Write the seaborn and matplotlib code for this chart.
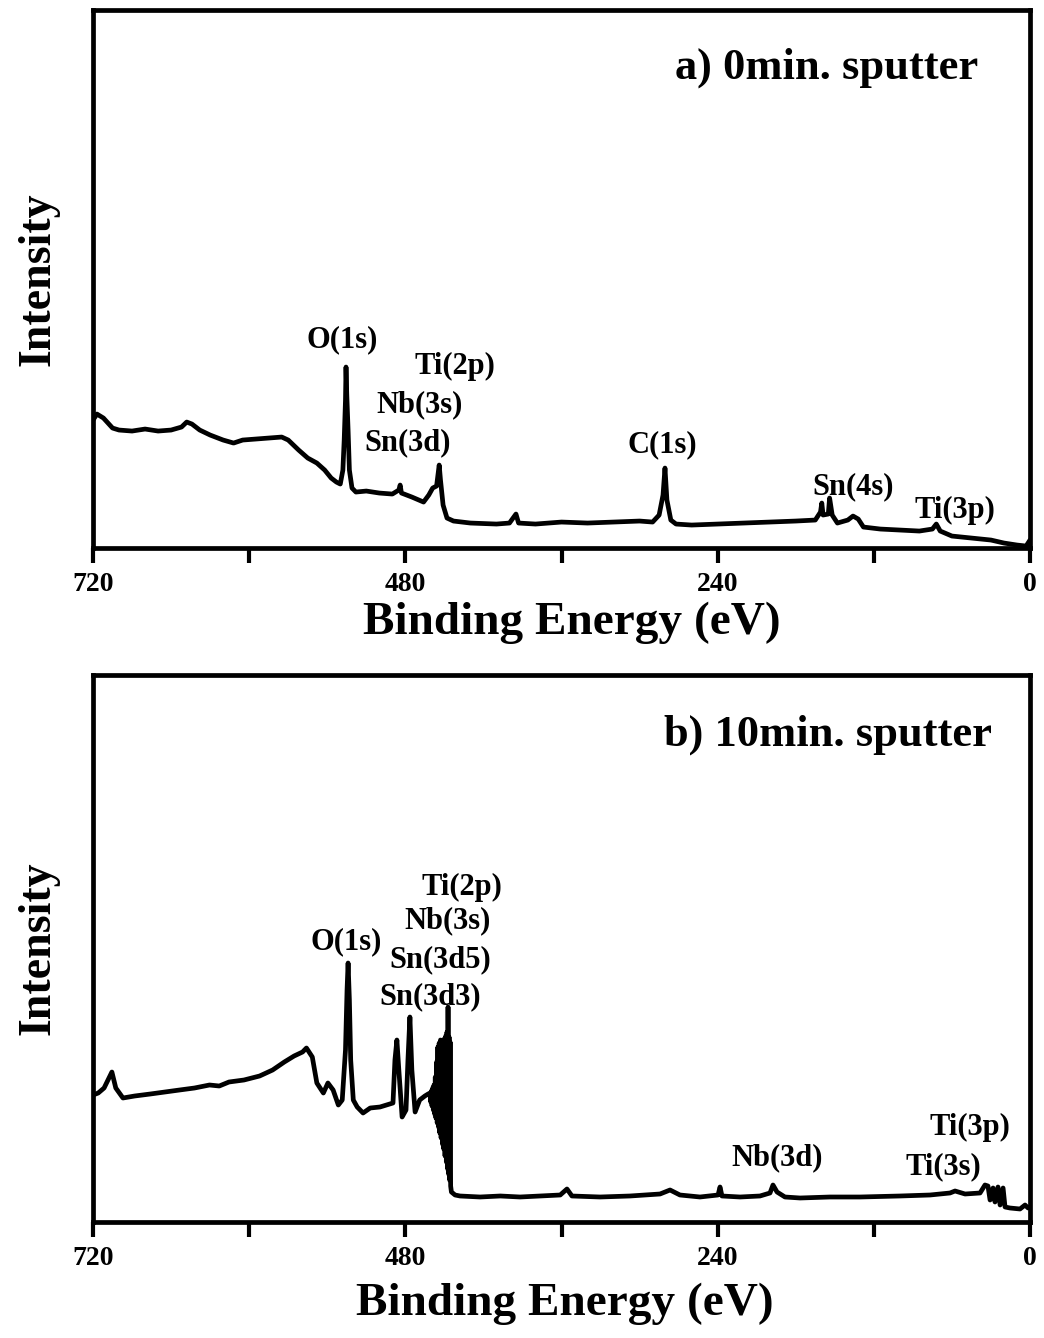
import matplotlib
matplotlib.use("Agg")
import matplotlib.pyplot as plt
import seaborn as sns
import pandas as pd

# ---------------- data ----------------
# Panel a) 0 min sputter : binding energy (eV) and intensity (a.u.)
energy_a = [720, 717, 712, 705, 700, 690, 680, 670, 660, 652, 648, 644, 638, 630,
            620, 612, 605, 595, 585, 575, 570, 562, 555, 548, 542, 537, 533, 530,
            528, 527, 526, 525.6, 525, 524, 523, 521, 518, 510, 500, 490, 485, 484,
            483, 475, 466, 462, 459, 456, 454, 453, 451, 448, 443, 430, 410, 400,
            395, 393, 380, 360, 340, 320, 300, 290, 285, 282, 280.5, 279, 276, 272,
            260, 240, 220, 200, 180, 165, 161, 160, 159, 155, 154, 152, 148, 140,
            136, 132, 128, 115, 100, 85, 75, 72, 69, 60, 45, 30, 20, 10, 3, 0]
intensity_a = [128, 134, 130, 120, 118, 117, 119, 117, 118, 121, 126, 124, 118, 113,
               108, 105, 108, 109, 110, 111, 108, 98, 90, 85, 78, 70, 66, 64,
               78, 108, 148, 181, 153, 118, 78, 60, 56, 57, 55, 54, 58, 63,
               55, 51, 46, 53, 60, 62, 83, 68, 43, 30, 27, 25, 24, 25,
               34, 25, 24, 26, 25, 26, 27, 26, 33, 53, 80, 48, 28, 24,
               23, 24, 25, 26, 27, 28, 36, 45, 33, 34, 50, 33, 25, 28,
               32, 29, 21, 19, 18, 17, 19, 24, 17, 12, 10, 8, 5, 3, 2, 8]

# Panel b) 10 min sputter
energy_b = [720, 716, 711.5, 708.5, 705.5, 702.5, 697, 688, 676, 665, 653.5, 642,
            630.5, 623, 615.5, 604, 592, 582, 573, 565.5, 559, 556, 551.5, 548,
            543, 539.5, 535.5, 531.5, 528.5, 526, 524.8, 524, 523, 522, 520, 517,
            512.5, 507, 499.5, 489.5, 488, 486.5, 485, 482.5, 479.5, 478, 476.5,
            475, 472.5, 469, 465, 462.5,
            461.0, 460.5, 460.0, 459.5, 459.0, 458.5, 458.0, 457.5, 457.0, 456.5,
            456.0, 455.5, 455.0, 454.5, 454.0, 453.5, 453.0, 452.5, 452.0, 451.5,
            451.0, 450.5, 450.0, 449.5, 449.0, 448.5, 448.0, 447.5, 447.2, 446.8,
            446.4, 446.0, 445.6, 445.2, 444.6,
            441.8, 438, 422.6, 407, 391.9, 376.5, 361, 355.8, 352, 330.4, 307.4,
            284.3, 276.6, 269, 253.6, 239.7, 238.2, 236.7, 222.8, 207.5, 199.8,
            197.5, 194.4, 188.3, 176.7, 153.7, 130.6, 99.9, 76.8, 61.5, 57.6, 49.9,
            38.4, 34.6, 32.3, 30.7, 28.4, 26.9, 24.6, 23, 20.7, 19.2, 15.4, 7.7,
            3.8, 1.5, 0]
intensity_b = [127, 129, 134, 142, 150, 134, 124, 126, 128, 130, 132, 134,
               137, 136, 140, 142, 146, 152, 160, 166, 170, 174, 165, 139,
               129, 139, 132, 117, 122, 172, 232, 259, 222, 162, 122, 115,
               109, 114, 115, 119, 162, 182, 152, 105, 112, 162, 205,
               152, 110, 122, 126, 128,
               129, 120, 131, 116, 134, 112, 137, 108, 145, 104,
               160, 99, 175, 95, 179, 89, 182, 84, 181, 78,
               182, 73, 183, 66, 186, 60, 190, 53, 215, 48,
               185, 42, 180, 36, 30,
               27, 26, 25, 26, 25, 26, 27, 33, 26, 25, 26,
               28, 32, 27, 25, 27, 35, 26, 25, 26, 29,
               37, 30, 25, 24, 25, 25, 26, 27, 29, 31, 28,
               29, 37, 36, 22, 34, 20, 35, 17, 34, 15, 14, 13,
               17, 14, 15]

tick_values = [720, 600, 480, 360, 240, 120, 0]
tick_labels = ["720", "", "480", "", "240", "", "0"]

labels_a = ["O(1s)", "Ti(2p)", "Nb(3s)", "Sn(3d)", "C(1s)", "Sn(4s)", "Ti(3p)"]
labels_b = ["Ti(2p)", "Nb(3s)", "O(1s)", "Sn(3d5)", "Sn(3d3)", "Nb(3d)", "Ti(3p)", "Ti(3s)"]

# ---------------- styling ----------------
sns.set_theme(style="white")
plt.rcParams["font.family"] = ["Liberation Serif", "DejaVu Serif"]
plt.rcParams["font.weight"] = "bold"
plt.rcParams["text.color"] = "black"
plt.rcParams["axes.labelcolor"] = "black"
plt.rcParams["xtick.color"] = "black"

fig = plt.figure(figsize=(10.44, 13.38), dpi=100)
ax_a = fig.add_axes([0.0891, 0.5904, 0.8975, 0.4021])
ax_b = fig.add_axes([0.0891, 0.0867, 0.8975, 0.4088])

df_a = pd.DataFrame({"E": energy_a, "I": intensity_a})
df_b = pd.DataFrame({"E": energy_b, "I": intensity_b})

sns.lineplot(data=df_a, x="E", y="I", ax=ax_a, color="black", lw=3.4,
             sort=False, estimator=None)
sns.lineplot(data=df_b, x="E", y="I", ax=ax_b, color="black", lw=3.4,
             sort=False, estimator=None)

for ax, ymax in ((ax_a, 538), (ax_b, 547)):
    ax.set_xlim(720, 0)
    ax.set_ylim(0, ymax)
    ax.set_xticks(tick_values)
    ax.set_xticklabels(tick_labels, fontsize=20, fontweight="bold", color="black")
    ax.set_yticks([])
    ax.tick_params(axis="x", direction="out", length=11, width=3, pad=6,
                   bottom=True, colors="black")
    for s in ax.spines.values():
        s.set_linewidth(3.4)
        s.set_color("black")
    ax.set_ylabel("Intensity", fontsize=33, fontweight="bold", color="black")
    ax.yaxis.set_label_coords(-0.036, 0.5)
    ax.set_xlabel("Binding Energy (eV)", fontsize=34, fontweight="bold", color="black")

ax_a.xaxis.set_label_coords(0.511, -0.100)
ax_b.xaxis.set_label_coords(0.504, -0.110)

ax_a.text(0.9445, 0.892, "a) 0min. sputter", transform=ax_a.transAxes,
          ha="right", va="center", fontsize=32, fontweight="bold", color="black")
ax_b.text(0.959, 0.890, "b) 10min. sputter", transform=ax_b.transAxes,
          ha="right", va="center", fontsize=32, fontweight="bold", color="black")

pos_a = [(528.7, 208), (441.8, 182), (468.7, 143), (477.9, 105),
         (282.8, 103), (136, 61), (57.6, 38)]
for txt, (x, y) in zip(labels_a, pos_a):
    ax_a.text(x, y, txt, ha="center", va="center", fontsize=22,
              fontweight="bold", color="black")

pos_b = [(436.5, 335), (447.3, 301), (525.6, 280), (453.4, 262), (461, 225),
         (194.4, 64), (46, 95), (66.9, 55)]
for txt, (x, y) in zip(labels_b, pos_b):
    ax_b.text(x, y, txt, ha="center", va="center", fontsize=22,
              fontweight="bold", color="black")

fig.savefig("out.png", dpi=100, facecolor="white")
